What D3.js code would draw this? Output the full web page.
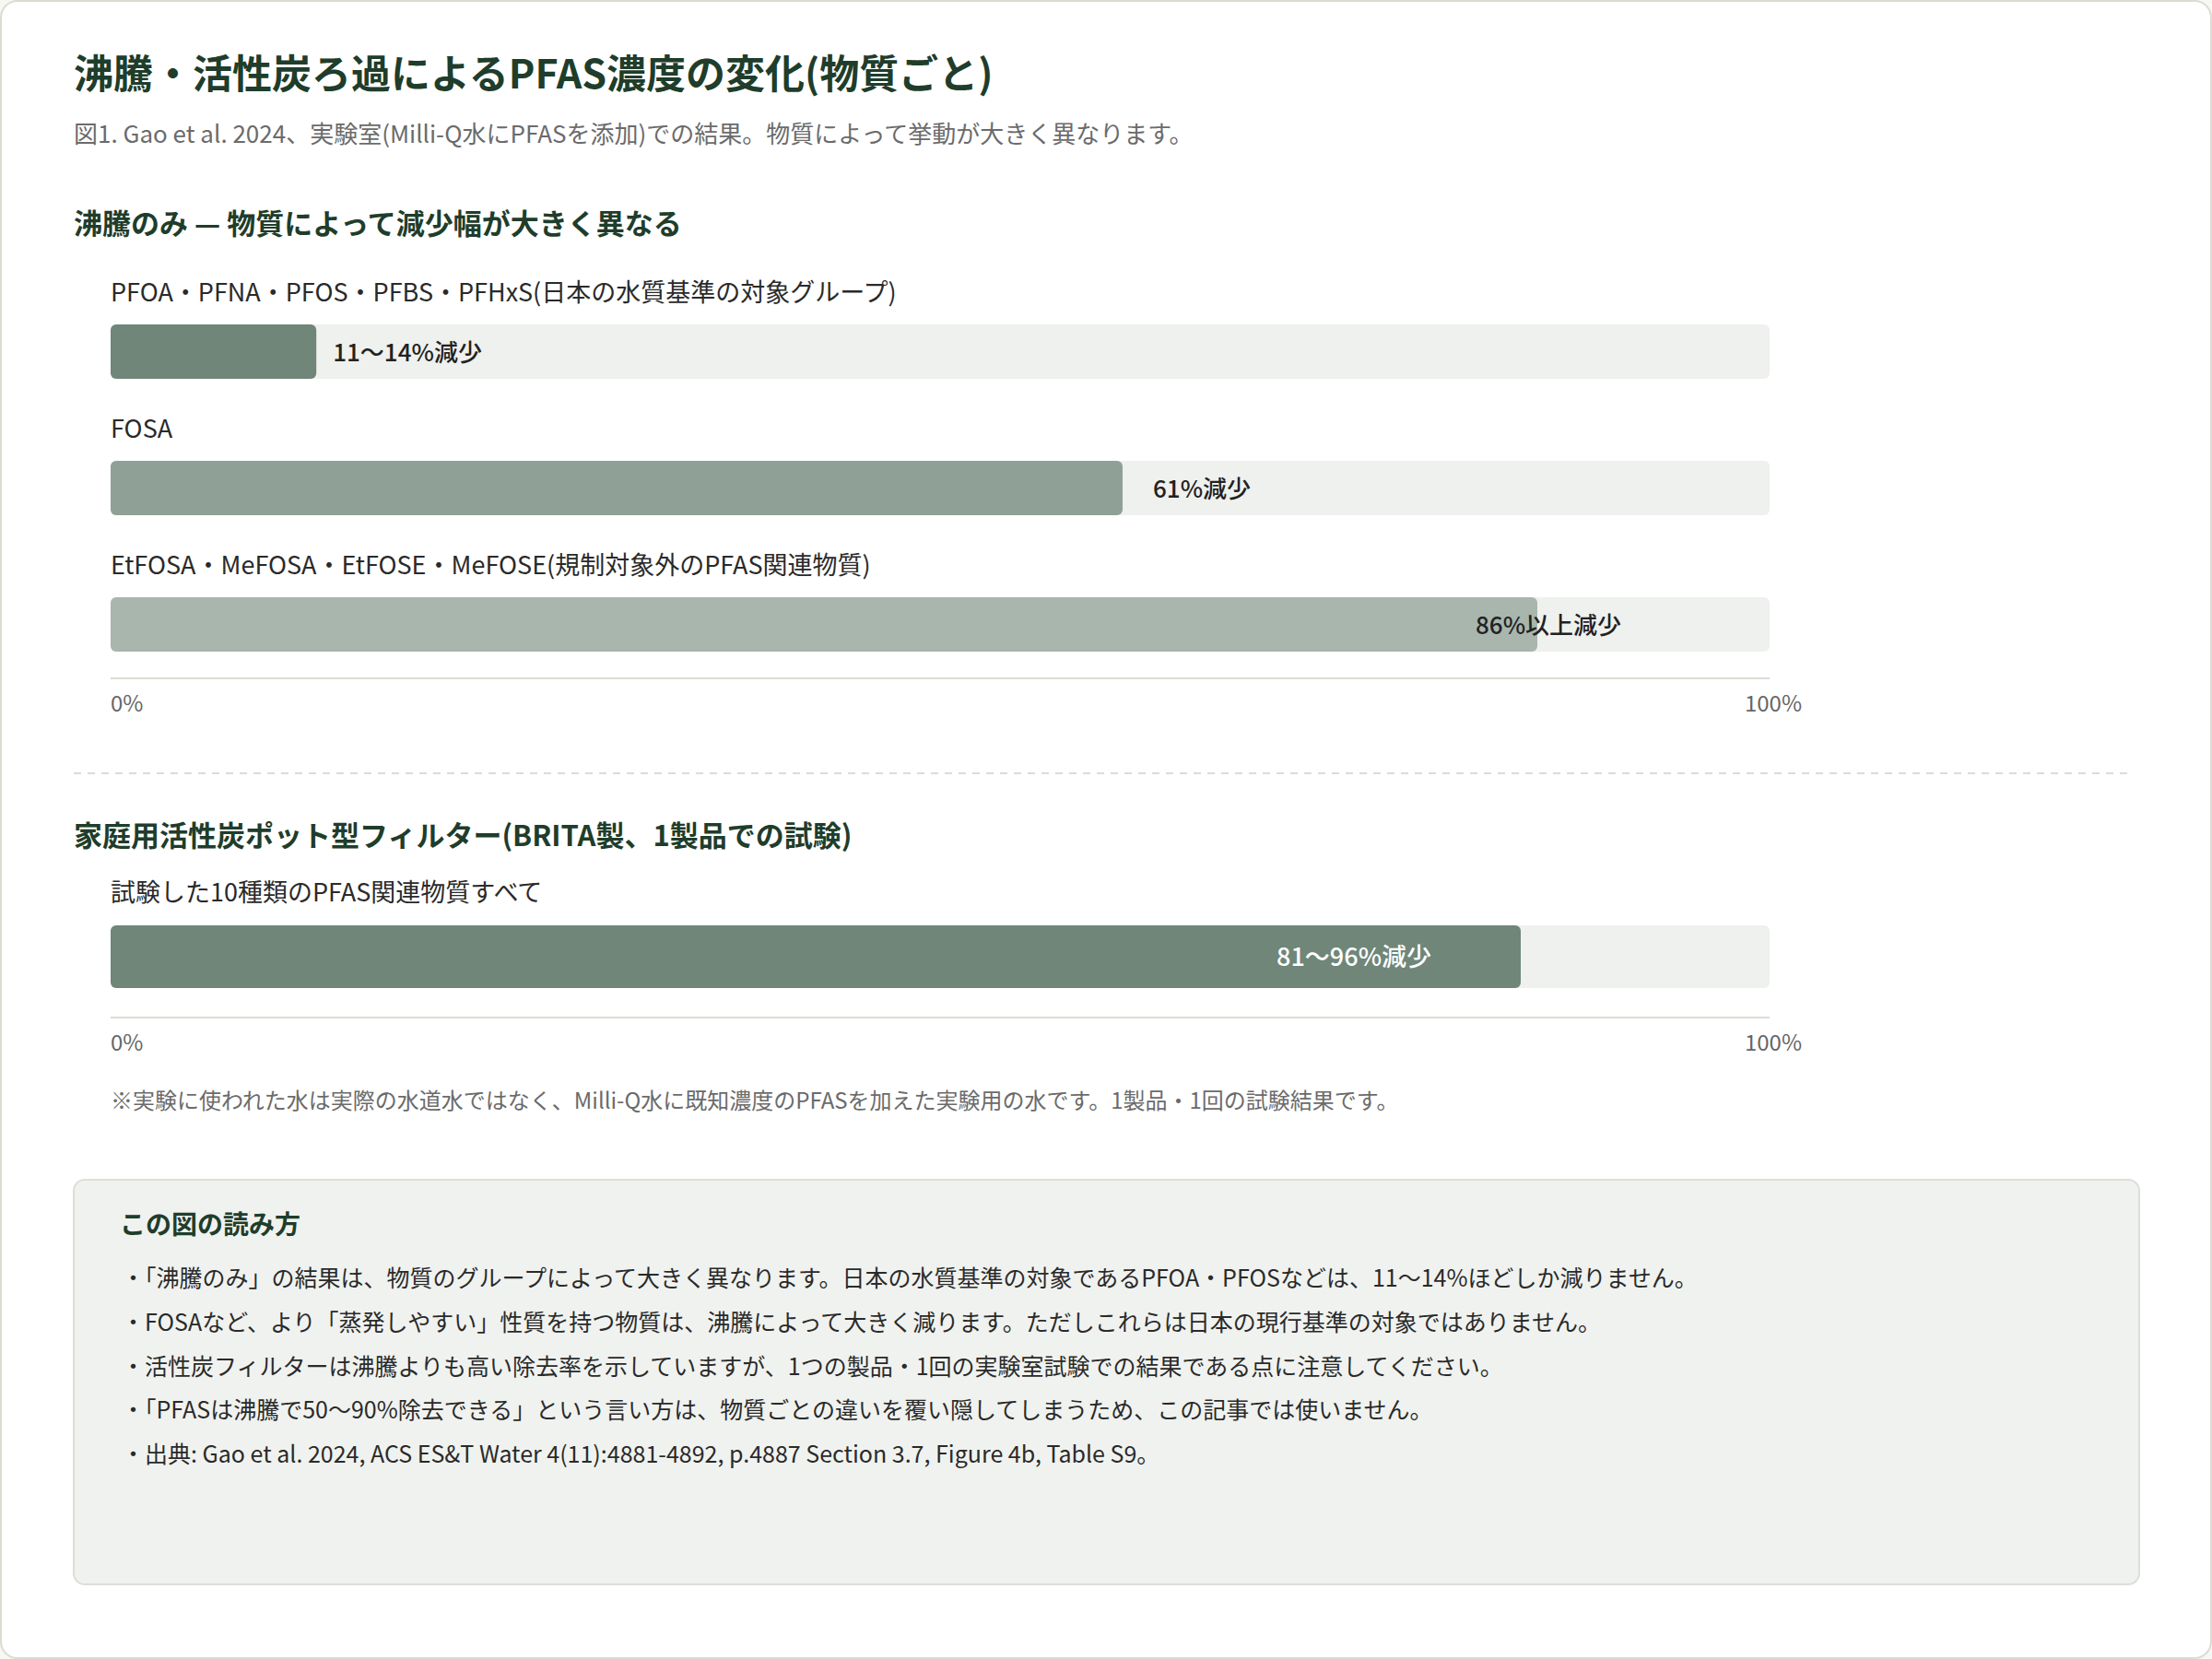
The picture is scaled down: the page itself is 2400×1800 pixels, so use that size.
<!DOCTYPE html>
<html><head><meta charset="utf-8">
<script src="https://cdn.jsdelivr.net/npm/d3@7/dist/d3.min.js"></script>
<style>html,body{margin:0;padding:0;background:#f7f7f3;}svg{display:block;}</style>
</head><body><svg id="c" width="2400" height="1800"></svg>
<script>
const boilCategories = ["PFOA・PFNA・PFOS・PFBS・PFHxS(日本の水質基準の対象グループ)", "FOSA", "EtFOSA・MeFOSA・EtFOSE・MeFOSE(規制対象外のPFAS関連物質)"];
const boilValues = [12.4, 61, 86];
const boilLabels = ["11〜14%減少", "61%減少", "86%以上減少"];
const filterCategories = ["試験した10種類のPFAS関連物質すべて"];
const filterValues = [85];
const filterLabels = ["81〜96%減少"];
const tickLabels = ["0%", "100%"];
const notes = [
 "・「沸騰のみ」の結果は、物質のグループによって大きく異なります。日本の水質基準の対象であるPFOA・PFOSなどは、11〜14%ほどしか減りません。",
 "・FOSAなど、より「蒸発しやすい」性質を持つ物質は、沸騰によって大きく減ります。ただしこれらは日本の現行基準の対象ではありません。",
 "・活性炭フィルターは沸騰よりも高い除去率を示していますが、1つの製品・1回の実験室試験での結果である点に注意してください。",
 "・「PFASは沸騰で50〜90%除去できる」という言い方は、物質ごとの違いを覆い隠してしまうため、この記事では使いません。",
 "・出典: Gao et al. 2024, ACS ES&T Water 4(11):4881-4892, p.4887 Section 3.7, Figure 4b, Table S9。"
];

const F = '"Noto Sans CJK JP","Noto Sans",sans-serif';
const svg = d3.select("#c").style("font-family", F);
svg.append("rect").attr("x",1).attr("y",1).attr("width",2398).attr("height",1798).attr("rx",18)
  .attr("fill","#fff").attr("stroke","#dcdcd4").attr("stroke-width",2);
const green = "#1f3d2b";
svg.append("text").attr("x",80).attr("y",96).attr("font-size",43).attr("font-weight",700).attr("fill",green)
  .text("沸騰・活性炭ろ過によるPFAS濃度の変化(物質ごと)");
svg.append("text").attr("x",80).attr("y",155).attr("font-size",26).attr("fill","#6b6b6b")
  .text("図1. Gao et al. 2024、実験室(Milli-Q水にPFASを添加)での結果。物質によって挙動が大きく異なります。");

const x = d3.scaleLinear().domain([0,100]).range([120,1920]);

function heading(t,y){svg.append("text").attr("x",80).attr("y",y).attr("font-size",31).attr("font-weight",700).attr("fill",green).text(t);}

heading("沸騰のみ — 物質によって減少幅が大きく異なる",254);
const boilColors = ["#6f8679","#8fa197","#a8b6ad"];
const boilLabelOffsets = [18,33,-67];
const rowY = d3.scaleBand().domain(boilCategories).range([300,744]).paddingInner(0);
boilCategories.forEach((c,i)=>{
  const y0 = rowY(c);
  svg.append("text").attr("x",120).attr("y",y0+27).attr("font-size",27).attr("fill","#2a2a2a").text(c);
  svg.append("rect").attr("x",x(0)).attr("y",y0+52).attr("width",x(100)-x(0)).attr("height",59).attr("rx",6).attr("fill","#eff1ee");
  svg.append("rect").attr("x",x(0)).attr("y",y0+52).attr("width",x(boilValues[i])-x(0)).attr("height",59).attr("rx",6).attr("fill",boilColors[i]);
  svg.append("text").attr("x",x(boilValues[i])+boilLabelOffsets[i]).attr("y",y0+92).attr("font-size",26).attr("font-weight",500).attr("fill","#222").text(boilLabels[i]);
});
function axis(y){
  svg.append("line").attr("x1",x(0)).attr("x2",x(100)).attr("y1",y).attr("y2",y).attr("stroke","#dcdcd4").attr("stroke-width",2);
  svg.append("text").attr("x",x(0)).attr("y",y+36).attr("font-size",24).attr("fill","#666").text(tickLabels[0]);
  svg.append("text").attr("x",x(100)+4).attr("y",y+36).attr("font-size",24).attr("fill","#666").attr("text-anchor","middle").text(tickLabels[1]);
}
axis(736);
svg.append("line").attr("x1",80).attr("x2",2312).attr("y1",839).attr("y2",839).attr("stroke","#dcdcd4").attr("stroke-width",2).attr("stroke-dasharray","8,7");

heading("家庭用活性炭ポット型フィルター(BRITA製、1製品での試験)",918);
filterCategories.forEach((c,i)=>{
  svg.append("text").attr("x",120).attr("y",978).attr("font-size",27).attr("fill","#2a2a2a").text(c);
  svg.append("rect").attr("x",x(0)).attr("y",1004).attr("width",x(100)-x(0)).attr("height",68).attr("rx",6).attr("fill","#eff1ee");
  svg.append("rect").attr("x",x(0)).attr("y",1004).attr("width",x(filterValues[i])-x(0)).attr("height",68).attr("rx",6).attr("fill","#6f8679");
  svg.append("text").attr("x",x(filterValues[i])-97).attr("y",1048).attr("font-size",27).attr("font-weight",500).attr("fill","#fff").attr("text-anchor","end").text(filterLabels[i]);
});
axis(1104);
svg.append("text").attr("x",120).attr("y",1203).attr("font-size",24).attr("fill","#6b6b6b")
  .text("※実験に使われた水は実際の水道水ではなく、Milli-Q水に既知濃度のPFASを加えた実験用の水です。1製品・1回の試験結果です。");

svg.append("rect").attr("x",80).attr("y",1280).attr("width",2241).attr("height",439).attr("rx",12).attr("fill","#f0f2ef").attr("stroke","#dcdfd8").attr("stroke-width",2);
svg.append("text").attr("x",130).attr("y",1339).attr("font-size",28).attr("font-weight",700).attr("fill",green).text("この図の読み方");
notes.forEach((t,i)=>{
  svg.append("text").attr("x",132).attr("y",1396+i*47.8).attr("font-size",25).attr("fill","#2a2a2a").text(t);
});
</script></body></html>
